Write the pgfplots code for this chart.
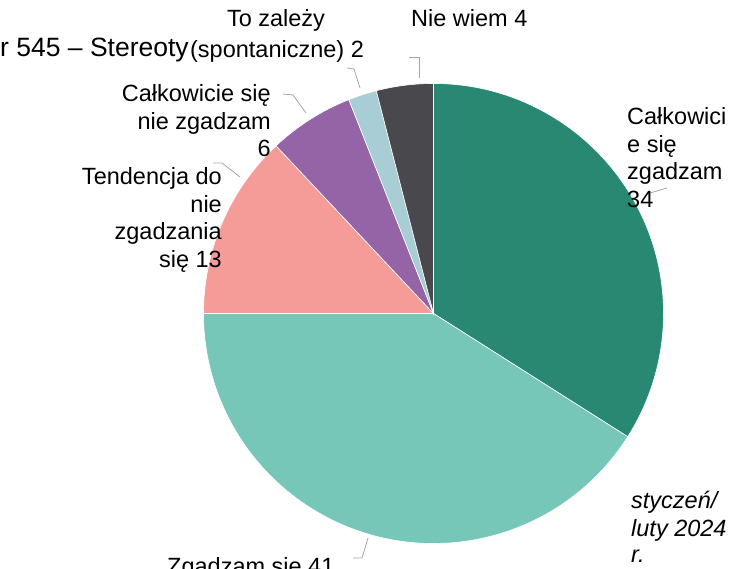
\documentclass[border=0pt]{standalone}
\usepackage{pgfplots}
\usepackage{pgfplotstable}
\pgfplotsset{compat=1.18}
\usepackage{fontspec}
\setmainfont{Liberation Sans}
\definecolor{c1}{HTML}{288871}
\definecolor{c2}{HTML}{76C7B8}
\definecolor{c3}{HTML}{F69C98}
\definecolor{c4}{HTML}{9464A6}
\definecolor{c5}{HTML}{A8CDD5}
\definecolor{c6}{HTML}{49484D}
\definecolor{leader}{HTML}{A6A6A6}
\tikzset{lbl/.style={font=\fontsize{23.5}{27}\selectfont, inner sep=0pt}}
\pgfplotstableread{
value col
34 c1
41 c2
13 c3
6 c4
2 c5
4 c6
}\piedata
\begin{document}
\begin{tikzpicture}
\begin{axis}[x=1pt,y=1pt,xmin=0,xmax=745,ymin=0,ymax=569,hide axis,clip=false]
\gdef\cum{0}
\pgfplotsinvokeforeach{0,...,5}{
  \pgfplotstablegetelem{#1}{value}\of\piedata \let\v\pgfplotsretval
  \pgfplotstablegetelem{#1}{col}\of\piedata \let\c\pgfplotsretval
  \pgfmathsetmacro\a{90-3.6*\cum}
  \pgfmathsetmacro\b{90-3.6*(\cum+\v)}
  \edef\temp{\noexpand\fill[\c, draw=white, line width=0.6pt] (axis cs:433.5,255.5) -- ++(\a:230pt) arc[start angle=\a, end angle=\b, radius=230pt] -- cycle;}
  \temp
  \pgfmathsetmacro\tmp{\cum+\v}
  \xdef\cum{\tmp}
}
% leader lines
\addplot[leader, line width=0.8pt, no marks] coordinates {(409,512) (419,512) (419,491)};
\addplot[leader, line width=0.8pt, no marks] coordinates {(347,501) (354,500) (360,481)};
\addplot[leader, line width=0.8pt, no marks] coordinates {(283,475) (293,474) (306,456)};
\addplot[leader, line width=0.8pt, no marks] coordinates {(213,406) (222,406) (240,392)};
\addplot[leader, line width=0.8pt, no marks] coordinates {(650,376) (667,381)};
\addplot[leader, line width=0.8pt, no marks] coordinates {(353,11) (362,11) (368,31)};
% title (partly hidden behind the label, as in the original)
\node[inner sep=0pt, font=\fontsize{26.5}{30}\selectfont, anchor=base west] at (axis cs:0,512) {\llap{Wykres n}r 545 – Stereotypy};
% labels
\node[lbl, anchor=base] at (axis cs:276,542) {To zależy};
\node[lbl, anchor=base, fill=white] at (axis cs:277,511) {(spontaniczne) 2};
\node[lbl, anchor=base west] at (axis cs:411,542) {Nie wiem 4};
\node[lbl, anchor=base east] at (axis cs:271,467) {Całkowicie się};
\node[lbl, anchor=base east] at (axis cs:271,439) {nie zgadzam};
\node[lbl, anchor=base east] at (axis cs:271,412) {6};
\node[lbl, anchor=base east] at (axis cs:222,384) {Tendencja do};
\node[lbl, anchor=base east] at (axis cs:222,356) {nie};
\node[lbl, anchor=base east] at (axis cs:222,329) {zgadzania};
\node[lbl, anchor=base east] at (axis cs:222,301) {się 13};
\node[lbl, anchor=base west] at (axis cs:627,444) {Całkowici};
\node[lbl, anchor=base west] at (axis cs:627,416) {e się};
\node[lbl, anchor=base west] at (axis cs:627,389) {zgadzam};
\node[lbl, anchor=base west] at (axis cs:627,361) {34};
\node[lbl, anchor=base west] at (axis cs:167,-6) {Zgadzam się 41};
\node[lbl, anchor=base west] at (axis cs:631,60) {\itshape styczeń/};
\node[lbl, anchor=base west] at (axis cs:631,32) {\itshape luty 2024};
\node[lbl, anchor=base west] at (axis cs:631,6) {\itshape r.};
\end{axis}
\pgfresetboundingbox
\useasboundingbox (0,0) rectangle (745pt,569pt);
\end{tikzpicture}
\end{document}
